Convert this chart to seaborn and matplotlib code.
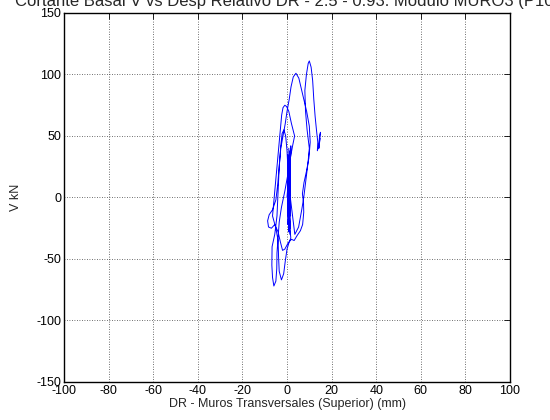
import matplotlib
matplotlib.use("Agg")
import matplotlib.pyplot as plt
import seaborn as sns
import pandas as pd

# Hysteresis history, split into successive stages (drift in mm, shear in kN)
start_dr = [0.0, 0.6, 0.2, 1.1, 0.4, 1.4, 0.7, 1.7, 0.9, 1.2, 0.5, 1.0, 0.3, 1.5, 0.8, 1.3, 0.6, 1.0]
start_v = [0, 15, -12, 28, -22, 38, -28, 42, -18, 30, -8, 20, -15, 35, -5, 12, 2, 8]

cycle1_dr = [0.5, 0.0, -0.6, -1.4, -2.2, -2.8, -3.5, -4.2, -5.0, -6.5, -8.0, -8.7, -8.3,
             -7.0, -5.5, -4.0, -3.0, -2.0, -1.0, 0.5, 2.0, 3.2, 4.5, 6.0, 7.0, 7.5, 7.4,
             6.9, 7.6, 8.8]
cycle1_v = [20, 38, 50, 55, 52, 42, 25, 10, -2, -10, -14, -19, -24,
            -25, -22, -28, -36, -43, -42, -37, -34, -35, -31, -27, -22, -12, -4,
            3, 12, 22]

cycle2_dr = [9.8, 10.4, 10.0, 8.8, 7.5, 6.5, 5.3, 4.0, 2.8, 1.8, 1.0, 0.0, -0.8, -1.8,
             -2.8, -3.5, -4.0, -4.5, -5.5, -6.7, -6.8, -6.5, -5.9, -5.0, -4.6, -4.5,
             -4.0, -3.5, -2.5, -1.0, 0.5, 1.5, 2.5]
cycle2_v = [32, 45, 58, 70, 80, 88, 97, 101, 98, 90, 80, 70, 60, 50,
            40, 25, 5, -15, -30, -40, -55, -65, -72, -68, -58, -45,
            -32, -20, -8, 5, 20, 32, 42]

cycle3_dr = [3.4, 2.0, 0.8, -0.2, -1.0, -1.8, -2.4, -3.0, -3.8, -4.5, -5.2, -6.0, -6.5,
             -5.0, -4.0, -3.8, -3.5, -2.5, -1.5, -0.8, 0.0, 1.0, 1.7]
cycle3_v = [50, 60, 70, 74, 75, 73, 67, 55, 40, 25, 10, -5, -15,
            -25, -35, -48, -60, -67, -62, -52, -42, -36, -33]

spike_dr = [1.0, 0.2, 1.4, 0.5, 1.2, 0.3, 1.6, 0.6, 1.1, 0.4, 1.3, 0.8, 1.5, 0.7,
            1.2, 0.9, 1.4, 0.6, 1.1, 0.8]
spike_v = [-20, 30, -25, 25, -10, 35, -15, 20, 0, 15, -30, 40, 5, 10,
           -5, 12, 2, 18, 6, 10]

final_dr = [3.5, 5.2, 6.6, 7.5, 8.5, 9.4, 10.0, 9.0, 8.3, 8.0, 8.7, 9.5, 10.0, 10.8,
            11.5, 12.0, 12.6, 13.2, 13.8, 13.6, 14.2, 14.6, 15.0, 14.6, 14.3, 14.8]
final_v = [-30, -24, -10, 0, 15, 28, 40, 55, 70, 87, 100, 109, 111, 106,
           95, 80, 66, 55, 45, 38, 42, 50, 53, 45, 40, 48]

dr_mm = start_dr + cycle1_dr + cycle2_dr + cycle3_dr + spike_dr + final_dr
v_kn = start_v + cycle1_v + cycle2_v + cycle3_v + spike_v + final_v

x_ticks = [-100, -80, -60, -40, -20, 0, 20, 40, 60, 80, 100]
y_ticks = [-150, -100, -50, 0, 50, 100, 150]

df = pd.DataFrame({"dr": dr_mm, "v": v_kn, "step": range(len(dr_mm))})

sns.set_theme(style="white")
plt.rcParams["font.family"] = ["Liberation Sans", "DejaVu Sans"]
plt.rcParams["axes.unicode_minus"] = False

fig = plt.figure(figsize=(5.5, 4.2), dpi=100)
ax = fig.add_axes([0.1164, 0.0905, 0.8109, 0.8786])

sns.lineplot(data=df, x="dr", y="v", sort=False, estimator=None,
             color="#0000ff", linewidth=0.7, ax=ax)

ax.set_xlim(-100, 100)
ax.set_ylim(-150, 150)
ax.set_xticks(x_ticks)
ax.set_yticks(y_ticks)
ax.grid(True, color="#404040", linestyle=(0, (1, 2)), linewidth=0.6)
ax.tick_params(direction="in", length=4, width=0.6, colors="black",
               labelsize=9, top=True, right=True, pad=2)
for sp in ax.spines.values():
    sp.set_color("black")
    sp.set_linewidth(1.0)

ax.set_xlabel("DR - Muros Transversales (Superior) (mm)", fontsize=9, labelpad=1)
ax.set_ylabel("V kN", fontsize=9, labelpad=10)
ax.set_title("Cortante Basal V vs Desp Relativo DR - 2.5 - 0.93. Modulo MURO3 (P10)",
             fontsize=12, pad=5)

fig.savefig("out.png", dpi=100, facecolor="white")
